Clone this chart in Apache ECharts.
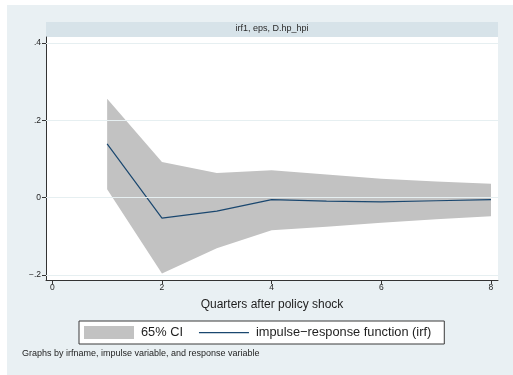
<!DOCTYPE html>
<html>
<head>
<meta charset="utf-8">
<script src="https://cdn.jsdelivr.net/npm/echarts@6/dist/echarts.min.js"></script>
<style>
  html, body { margin: 0; padding: 0; background: #ffffff; }
  #chart { width: 513px; height: 375px; }
</style>
</head>
<body>
<div id="chart"></div>
<script>
// Impulse-response of D.hp_hpi to an eps shock, with 65% confidence band
const steps    = [1, 2, 3, 4, 5, 6, 7, 8];
const irf      = [0.139, -0.053, -0.035, -0.005, -0.009, -0.011, -0.008, -0.005];
const ciLower  = [0.022, -0.196, -0.131, -0.084, -0.075, -0.065, -0.056, -0.048];
const ciUpper  = [0.256, 0.092, 0.064, 0.071, 0.060, 0.049, 0.042, 0.036];
const xTicks   = [0, 2, 4, 6, 8];
const yTicks   = [-0.2, 0, 0.2, 0.4];

const panelTitle = 'irf1, eps, D.hp_hpi';
const xTitle     = 'Quarters after policy shock';
const ciName     = '65% CI';
const irfName    = 'impulse\u2212response function (irf)';
const note       = 'Graphs by irfname, impulse variable, and response variable';

const FONT = '"Liberation Sans", Arial, Helvetica, sans-serif';
const TXT = '#1e1e1e';
const BAND = '#c2c2c2';
const NAVY = '#1a476f';

const pair = (xs, ys) => xs.map((x, i) => [x, ys[i]]);
const bandRows = steps.map((x, i) => [x, ciLower[i], ciUpper[i]]);
// Stata-style numbers: no leading zero, true minus sign
const fmtY = v => v === 0 ? '0' : (v < 0 ? '\u2212' : '') + String(Math.abs(+v.toFixed(2))).replace(/^0/, '');

// confidence band: one polygon along the upper bound and back along the lower bound
function renderBand(params, api) {
  if (params.dataIndex !== 0) return null;
  const upper = bandRows.map(r => api.coord([r[0], r[2]]));
  const lower = bandRows.map(r => api.coord([r[0], r[1]])).reverse();
  return {
    type: 'polygon',
    shape: { points: upper.concat(lower) },
    style: { fill: BAND, stroke: null }
  };
}

const chart = echarts.init(document.getElementById('chart'), null, { renderer: 'canvas' });

chart.setOption({
  backgroundColor: '#ffffff',
  animation: false,
  textStyle: { fontFamily: FONT },
  graphic: [
    { type: 'rect', z: -10, silent: true,
      shape: { x: 7, y: 5, width: 506, height: 370 },
      style: { fill: '#e9f0f3' } },
    { type: 'rect', z: -9, silent: true,
      shape: { x: 46, y: 22, width: 452, height: 15 },
      style: { fill: '#d7e3e9' } },
    { type: 'text', z: 10, silent: true, left: 22, top: 349,
      style: { text: note, fill: TXT, font: '9px ' + FONT } }
  ],
  title: {
    text: panelTitle,
    left: 272, top: 24, textAlign: 'center', padding: 0,
    textStyle: { fontSize: 9, fontWeight: 'normal', color: '#2a2a2a', fontFamily: FONT }
  },
  legend: {
    left: 79, top: 321,
    padding: [5, 13, 5, 5],
    itemWidth: 50, itemHeight: 13, itemGap: 16,
    backgroundColor: '#ffffff',
    borderColor: '#3a3a3a', borderWidth: 1,
    selectedMode: false,
    symbolKeepAspect: true,
    textStyle: { fontSize: 12.8, color: TXT, fontFamily: FONT, padding: [0, 0, 0, 2] },
    data: [
      { name: ciName, icon: 'rect', itemStyle: { color: BAND } },
      { name: irfName, icon: 'path://M0,0 L48,0 L48,1.2 L0,1.2 Z', itemStyle: { color: NAVY } }
    ]
  },
  grid: {
    left: 46, top: 37, right: 15, bottom: 95,
    show: true, backgroundColor: '#ffffff', borderWidth: 0
  },
  xAxis: {
    type: 'value',
    min: -0.115, max: 8.128,
    name: xTitle, nameLocation: 'middle', nameGap: 19,
    nameTextStyle: { fontSize: 12, color: TXT, fontFamily: FONT },
    axisLine: { show: true, onZero: false, lineStyle: { color: '#333', width: 1 } },
    axisTick: { show: true, length: 4, lineStyle: { color: '#333' }, customValues: xTicks },
    axisLabel: { fontSize: 8.5, color: TXT, margin: 3, customValues: xTicks },
    splitLine: { show: false }
  },
  yAxis: {
    type: 'value',
    min: -0.2129, max: 0.4155,
    axisLine: { show: true, onZero: false, lineStyle: { color: '#333', width: 1 } },
    axisTick: { show: true, length: 4, lineStyle: { color: '#333' }, customValues: yTicks },
    axisLabel: { fontSize: 8.5, color: TXT, margin: 5, customValues: yTicks, formatter: fmtY },
    splitLine: { show: false }
  },
  series: [
    {
      // horizontal reference lines at the labelled y values
      type: 'line', z: 1, silent: true, data: [],
      markLine: {
        silent: true, symbol: 'none', animation: false,
        label: { show: false },
        lineStyle: { color: '#e6eff1', width: 1, type: 'solid' },
        data: yTicks.map(v => ({ yAxis: v }))
      }
    },
    {
      name: ciName, type: 'custom', z: 2, silent: true,
      renderItem: renderBand,
      data: bandRows,
      encode: { x: 0, y: [1, 2] },
      itemStyle: { color: BAND }
    },
    {
      name: irfName, type: 'line', z: 3,
      data: pair(steps, irf), symbol: 'none',
      itemStyle: { color: NAVY },
      lineStyle: { color: NAVY, width: 1.2 }
    }
  ]
});
</script>
</body>
</html>
